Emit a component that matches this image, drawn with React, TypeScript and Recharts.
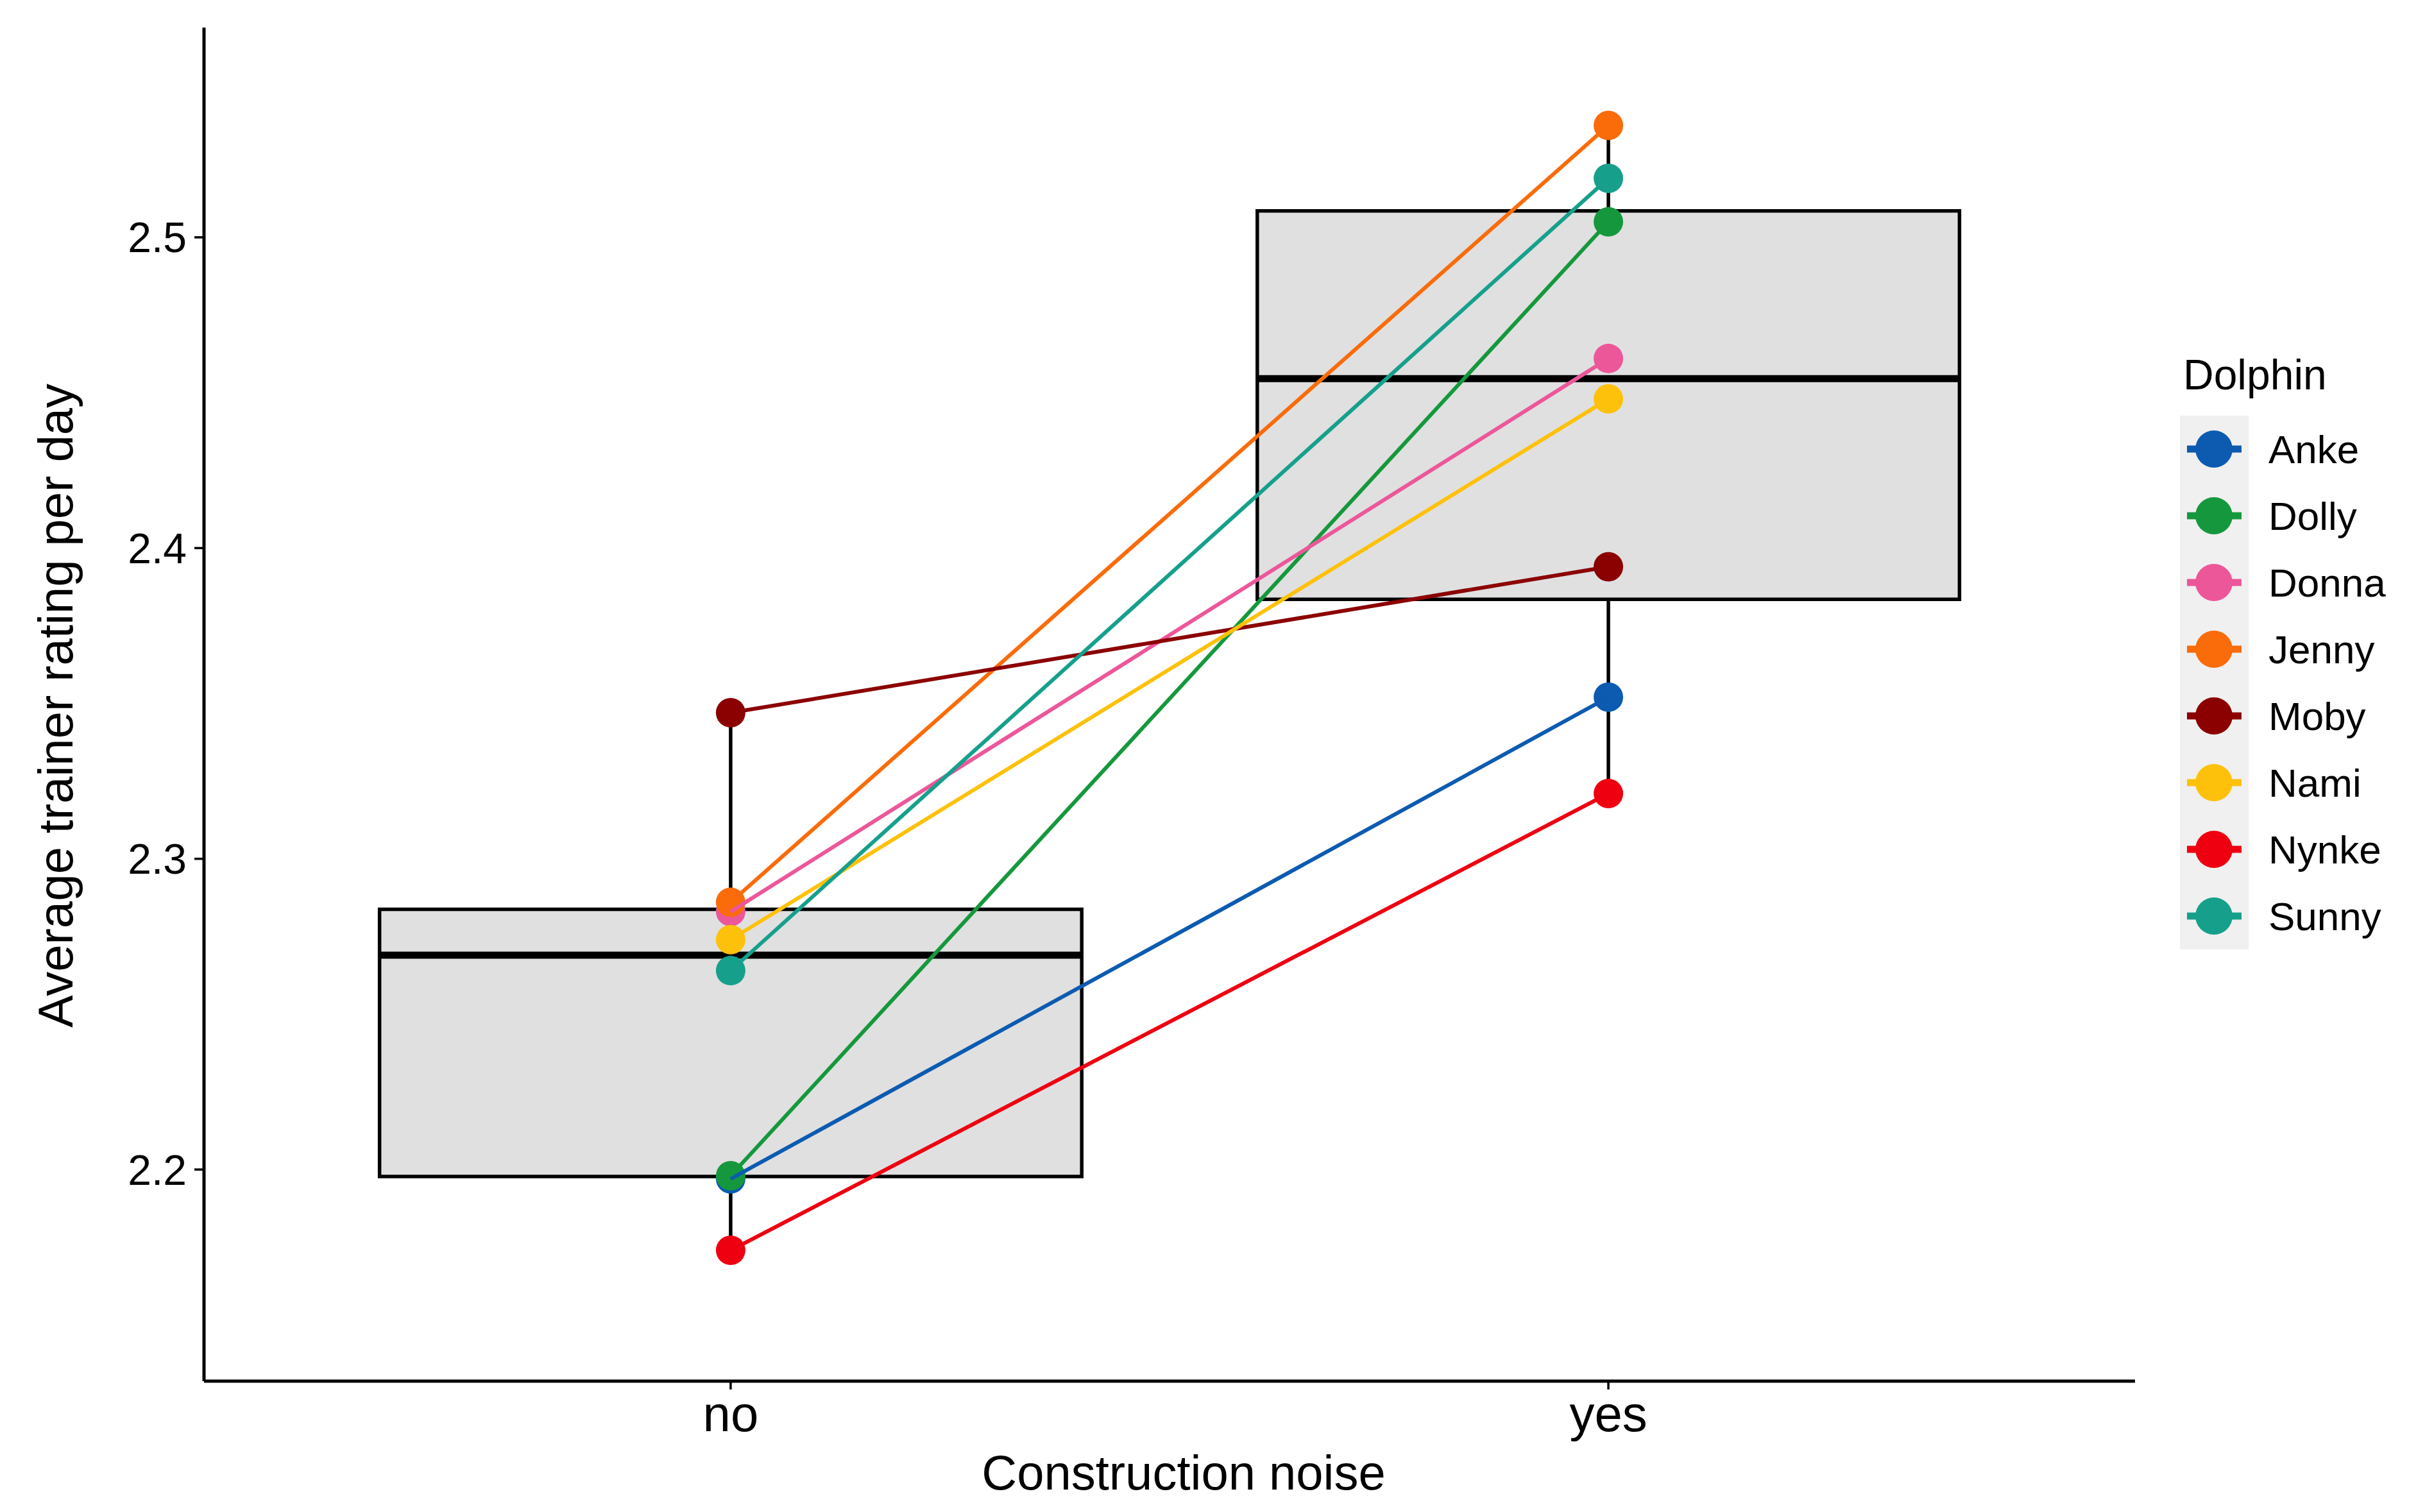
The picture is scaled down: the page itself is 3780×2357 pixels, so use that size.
import React from 'react';
import {
  ComposedChart,
  XAxis,
  YAxis,
  Line,
  Scatter,
  ReferenceArea,
  ReferenceLine,
  Legend,
} from 'recharts';

// ---------------- data ----------------
const conditions = ['no', 'yes'];
const conditionPositions = [1, 2];
const dolphins = ['Anke', 'Dolly', 'Donna', 'Jenny', 'Moby', 'Nami', 'Nynke', 'Sunny'];
const dolphinColors = ['#0C5BB0', '#15983D', '#EC579A', '#FA6B09', '#8B0000', '#FEC10B', '#EE0011', '#16A08C'];
const ratingNo = [2.197, 2.198, 2.283, 2.286, 2.347, 2.274, 2.174, 2.264];
const ratingYes = [2.352, 2.505, 2.461, 2.536, 2.394, 2.448, 2.321, 2.519];
const yTicks = [2.2, 2.3, 2.4, 2.5];
const yDomain: [number, number] = [2.1319, 2.5675];
const xDomain: [number, number] = [0.4, 2.6];

const xTitle = 'Construction noise';
const yTitle = 'Average trainer rating per day';
const legendTitle = 'Dolphin';

// ---------------- helpers ----------------
const FONT = '"Liberation Sans", Arial, Helvetica, sans-serif';
const W = 3780;
const H = 2357;
const BOX_HALF = 0.4;

function quantile(sorted: number[], p: number) {
  const pos = (sorted.length - 1) * p;
  const lo = Math.floor(pos);
  const hi = Math.ceil(pos);
  return sorted[lo] + (sorted[hi] - sorted[lo]) * (pos - lo);
}

function boxStats(values: number[]) {
  const s = [...values].sort((a, b) => a - b);
  const q1 = quantile(s, 0.25);
  const med = quantile(s, 0.5);
  const q3 = quantile(s, 0.75);
  const iqr = q3 - q1;
  const lowFence = q1 - 1.5 * iqr;
  const highFence = q3 + 1.5 * iqr;
  const lo = Math.min(...s.filter((v) => v >= lowFence));
  const hi = Math.max(...s.filter((v) => v <= highFence));
  return { q1, med, q3, lo, hi };
}

const conditionValues = [ratingNo, ratingYes];
const boxes = conditionPositions.map((pos, i) => ({ pos, ...boxStats(conditionValues[i]) }));

const dolphinSeries = dolphins.map((name, i) => ({
  name,
  color: dolphinColors[i],
  data: conditionPositions.map((pos, c) => ({ x: pos, y: conditionValues[c][i] })),
}));

const XTitleLabel = (props: any) => {
  const vb = props.viewBox || { x: 318, y: 2153, width: 3010, height: 204 };
  return (
    <text
      x={vb.x + vb.width / 2 + 22}
      y={vb.y + 169}
      textAnchor="middle"
      fontSize={76}
      fontFamily={FONT}
      fill="#000"
    >
      {xTitle}
    </text>
  );
};

const YTitleLabel = (props: any) => {
  const vb = props.viewBox || { x: 0, y: 43, width: 318, height: 2110 };
  const x = vb.x + 113;
  const y = vb.y + vb.height / 2 + 2;
  return (
    <text
      x={x}
      y={y}
      transform={`rotate(-90, ${x}, ${y})`}
      textAnchor="middle"
      fontSize={76}
      fontFamily={FONT}
      fill="#000"
    >
      {yTitle}
    </text>
  );
};

const LegendContent = (props: any) => {
  const payload: any[] = (props.payload || []).filter(
    (e: any) => e && e.type !== 'none' && dolphins.includes(e.value)
  );
  const seen = new Set<string>();
  const entries = payload.filter((e) => {
    if (seen.has(e.value)) return false;
    seen.add(e.value);
    return true;
  });
  const list = entries.length
    ? entries.map((e) => ({ value: e.value as string, color: e.color as string }))
    : dolphins.map((d, i) => ({ value: d, color: dolphinColors[i] }));
  const keyH = 104;
  const top = 108;
  return (
    <svg width={400} height={960} style={{ display: 'block', overflow: 'visible' }}>
      <text x={23} y={67} fontSize={66} fontFamily={FONT} fill="#000">
        {legendTitle}
      </text>
      <rect x={18} y={top} width={107} height={list.length * keyH} fill="#F0F0F0" />
      {list.map((e, i) => {
        const cy = top + keyH / 2 + i * keyH;
        return (
          <g key={e.value}>
            <line x1={29} x2={114} y1={cy} y2={cy} stroke={e.color} strokeWidth={11} />
            <circle cx={71} cy={cy} r={29} fill={e.color} />
            <text x={156} y={cy + 22} fontSize={62} fontFamily={FONT} fill="#000">
              {e.value}
            </text>
          </g>
        );
      })}
    </svg>
  );
};

export default function App() {
  return (
    <div style={{ position: 'absolute', left: 0, top: 0, width: W, height: H, background: '#fff' }}>
      <ComposedChart width={W} height={H} margin={{ top: 43, right: 452, bottom: 0, left: 0 }}>
        <XAxis
          type="number"
          dataKey="x"
          domain={xDomain}
          allowDataOverflow
          ticks={conditionPositions}
          interval={0}
          tickFormatter={(v: number) => conditions[conditionPositions.indexOf(v)] ?? ''}
          height={204}
          axisLine={{ stroke: '#000', strokeWidth: 5 }}
          tickLine={{ stroke: '#000', strokeWidth: 3.5 }}
          tickSize={13}
          tickMargin={10}
          tick={{ fill: '#000', fontSize: 78, fontFamily: FONT }}
          label={{ content: XTitleLabel }}
        />
        <YAxis
          type="number"
          dataKey="y"
          domain={yDomain}
          allowDataOverflow
          ticks={yTicks}
          interval={0}
          width={318}
          axisLine={{ stroke: '#000', strokeWidth: 5 }}
          tickLine={{ stroke: '#000', strokeWidth: 3.5 }}
          tickSize={15}
          tickMargin={12}
          tick={{ fill: '#000', fontSize: 66, fontFamily: FONT }}
          tickFormatter={(v: number) => v.toFixed(1)}
          label={{ content: YTitleLabel }}
        />

        {boxes.map((b) => (
          <ReferenceLine
            key={`wlo-${b.pos}`}
            segment={[{ x: b.pos, y: b.lo }, { x: b.pos, y: b.q1 }]}
            stroke="#000"
            strokeWidth={5.5}
            zIndex={40}
          />
        ))}
        {boxes.map((b) => (
          <ReferenceLine
            key={`whi-${b.pos}`}
            segment={[{ x: b.pos, y: b.q3 }, { x: b.pos, y: b.hi }]}
            stroke="#000"
            strokeWidth={5.5}
            zIndex={40}
          />
        ))}
        {boxes.map((b) => (
          <ReferenceArea
            key={`box-${b.pos}`}
            x1={b.pos - BOX_HALF}
            x2={b.pos + BOX_HALF}
            y1={b.q1}
            y2={b.q3}
            fill="#E0E0E0"
            fillOpacity={1}
            stroke="#000"
            strokeWidth={5.5}
            zIndex={50}
          />
        ))}
        {boxes.map((b) => (
          <ReferenceLine
            key={`med-${b.pos}`}
            segment={[{ x: b.pos - BOX_HALF, y: b.med }, { x: b.pos + BOX_HALF, y: b.med }]}
            stroke="#000"
            strokeWidth={11}
            zIndex={60}
          />
        ))}

        {dolphinSeries.map((s) => (
          <Scatter
            key={`pt-${s.name}`}
            name={s.name}
            data={s.data}
            dataKey="y"
            fill={s.color}
            legendType="none"
            isAnimationActive={false}
            zIndex={300}
            shape={(p: any) => <circle cx={p.cx} cy={p.cy} r={23} fill={s.color} />}
          />
        ))}
        {dolphinSeries.map((s) => (
          <Line
            key={`ln-${s.name}`}
            name={s.name}
            data={s.data}
            dataKey="y"
            type="linear"
            stroke={s.color}
            strokeWidth={6}
            dot={false}
            activeDot={false}
            isAnimationActive={false}
            zIndex={400}
          />
        ))}

        <Legend
          layout="vertical"
          align="center"
          verticalAlign="middle"
          content={LegendContent}
          wrapperStyle={{ left: 3380, top: 540, width: 400, height: 960 }}
        />
      </ComposedChart>
    </div>
  );
}
